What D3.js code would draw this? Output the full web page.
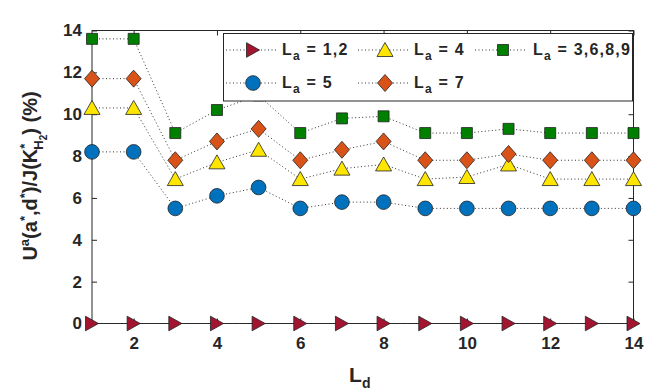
<!DOCTYPE html>
<html>
<head>
<meta charset="utf-8">
<script src="https://cdn.jsdelivr.net/npm/d3@7"></script>
<style>
    body { margin: 0; background: #fff; }
    text { font-family: "Liberation Sans", Arial, Helvetica, sans-serif; font-weight: bold; fill: #262626; }
    .axis path, .axis line { stroke: #262626; }
</style>
</head>
<body>
<script>

// x categories (L_d) and the five series
var ld = [1, 2, 3, 4, 5, 6, 7, 8, 9, 10, 11, 12, 13, 14];
var la12 = [0, 0, 0, 0, 0, 0, 0, 0, 0, 0, 0, 0, 0, 0];
var la4 = [10.3, 10.3, 6.9, 7.7, 8.3, 6.9, 7.4, 7.6, 6.9, 7.0, 7.6, 6.9, 6.9, 6.9];
var la3689 = [13.6, 13.6, 9.1, 10.2, 10.9, 9.1, 9.8, 9.9, 9.1, 9.1, 9.3, 9.1, 9.1, 9.1];
var la5 = [8.2, 8.2, 5.5, 6.1, 6.5, 5.5, 5.8, 5.8, 5.5, 5.5, 5.5, 5.5, 5.5, 5.5];
var la7 = [11.7, 11.7, 7.8, 8.7, 9.3, 7.8, 8.3, 8.7, 7.8, 7.8, 8.1, 7.8, 7.8, 7.8];
var xTicks = [2, 4, 6, 8, 10, 12, 14];
var yTicks = [0, 2, 4, 6, 8, 10, 12, 14];

var series = [
    {label: "1,2", values: la12, color: "#a2142f", shape: "right"},
    {label: "4", values: la4, color: "#ffe600", shape: "up"},
    {label: "3,6,8,9", values: la3689, color: "#008000", shape: "square"},
    {label: "5", values: la5, color: "#0072bd", shape: "circle"},
    {label: "7", values: la7, color: "#d95319", shape: "diamond"}
];

var W = 661, H = 392;
var plotL = 92, plotR = 633.5, plotT = 30.5, plotB = 323.5;

var svg = d3.select("body").append("svg").attr("width", W).attr("height", H);

var xScale = d3.scaleLinear().domain([1, 14]).range([plotL, plotR]);
var yScale = d3.scaleLinear().domain([0, 14]).range([plotB, plotT]);

// box + inward ticks
svg.append("rect")
    .attr("x", plotL).attr("y", plotT)
    .attr("width", plotR - plotL).attr("height", plotB - plotT)
    .attr("fill", "none").attr("stroke", "#262626").attr("stroke-width", 1);

svg.append("g").attr("class", "axis")
    .attr("transform", "translate(0," + plotB + ")")
    .call(d3.axisBottom(xScale).tickValues(xTicks).tickSizeInner(-5).tickSizeOuter(0).tickPadding(13));
svg.append("g").attr("class", "axis")
    .attr("transform", "translate(" + plotL + ",0)")
    .call(d3.axisLeft(yScale).tickValues(yTicks).tickSizeInner(-5).tickSizeOuter(0).tickPadding(10));
svg.append("g").attr("class", "axis")
    .attr("transform", "translate(0," + plotT + ")")
    .call(d3.axisTop(xScale).tickValues(xTicks).tickSize(-5).tickFormat(""));
svg.append("g").attr("class", "axis")
    .attr("transform", "translate(" + plotR + ",0)")
    .call(d3.axisRight(yScale).tickValues(yTicks).tickSize(-5).tickFormat(""));
svg.selectAll(".axis .domain").remove();
svg.selectAll(".axis text").style("font-size", "17px").attr("font-family", null).attr("fill", "#262626");

// marker shapes
function markerPath(shape) {
    if (shape === "right") return "M-6.5,-7.3L6.5,0L-6.5,7.3Z";
    if (shape === "up") return "M0,-7.5L8,6.5L-8,6.5Z";
    if (shape === "square") return "M-5.5,-5.5H5.5V5.5H-5.5Z";
    if (shape === "diamond") return "M0,-8.5L7.5,0L0,8.5L-7.5,0Z";
    return d3.symbol(d3.symbolCircle, 170)();
}

var line = d3.line()
    .x(function (d, i) { return xScale(ld[i]); })
    .y(function (d) { return yScale(d); });

series.forEach(function (s) {
    var g = svg.append("g");
    g.append("path")
        .attr("d", line(s.values))
        .attr("fill", "none")
        .attr("stroke", "#333")
        .attr("stroke-width", 1)
        .attr("stroke-dasharray", "1,2.5");
    g.selectAll("path.mk")
        .data(s.values)
        .enter().append("path")
        .attr("class", "mk")
        .attr("d", markerPath(s.shape))
        .attr("transform", function (d, i) {
            return "translate(" + xScale(ld[i]) + "," + yScale(d) + ")";
        })
        .attr("fill", s.color)
        .attr("stroke", "#222")
        .attr("stroke-width", 0.8);
});

// legend
var legend = svg.append("g");
legend.append("rect")
    .attr("x", 223.5).attr("y", 33.5).attr("width", 409).attr("height", 67.5)
    .attr("fill", "#fff").attr("stroke", "#262626").attr("stroke-width", 1);
var cols = [226, 358, 475];
var rows = [50, 83];
series.forEach(function (s, i) {
    var cx = cols[i % 3], cy = rows[Math.floor(i / 3)];
    var len = i % 3 === 2 ? 52 : 50;
    var item = legend.append("g");
    item.append("line")
        .attr("x1", cx).attr("x2", cx + len).attr("y1", cy).attr("y2", cy)
        .attr("stroke", "#333").attr("stroke-dasharray", "1,2.5");
    item.append("path")
        .attr("d", markerPath(s.shape))
        .attr("transform", "translate(" + (cx + len / 2 + 2) + "," + cy + ")")
        .attr("fill", s.color).attr("stroke", "#222").attr("stroke-width", 0.8);
    var t = item.append("text")
        .attr("x", cx + len + 6).attr("y", cy + 5)
        .style("font-size", "16px")
        .style("letter-spacing", "1.2px");
    t.append("tspan").text("L");
    t.append("tspan").attr("dy", 5).style("font-size", "12px").text("a");
    t.append("tspan").attr("dy", -5).text(" = " + s.label);
});

// x label
var xl = svg.append("text")
    .attr("x", (plotL + plotR) / 2 - 3).attr("y", 382)
    .attr("text-anchor", "middle")
    .style("font-size", "21px");
xl.append("tspan").text("L");
xl.append("tspan").attr("dy", 6).style("font-size", "14px").text("d");

// y label, laid out from its start and then centred on the axes
var yg = svg.append("g");
var yl = yg.append("text")
    .attr("x", 0).attr("y", 0)
    .style("font-size", "20px");
yl.append("tspan").text("U");
yl.append("tspan").attr("dy", -8).style("font-size", "13px").text("a");
yl.append("tspan").attr("dy", 8).text("(a");
yl.append("tspan").attr("dy", -8).style("font-size", "13px").text("*");
yl.append("tspan").attr("dy", 8).text(",d");
yl.append("tspan").attr("dy", -8).style("font-size", "13px").text("*");
yl.append("tspan").attr("dy", 8).text(")/J(K");
yl.append("tspan").attr("dy", -8).style("font-size", "13px").text("*");
yl.append("tspan").attr("dx", -6).attr("dy", 14).style("font-size", "13px").text("H");
yl.append("tspan").attr("dy", 4).style("font-size", "10px").text("2");
yl.append("tspan").attr("dy", -10).text(") (%)");
var yb = yl.node().getBBox();
var yMid = (plotT + plotB) / 2 - 1;
yg.attr("transform", "translate(37," + (yMid + yb.x + yb.width / 2) + ") rotate(-90)");

</script>
</body>
</html>
